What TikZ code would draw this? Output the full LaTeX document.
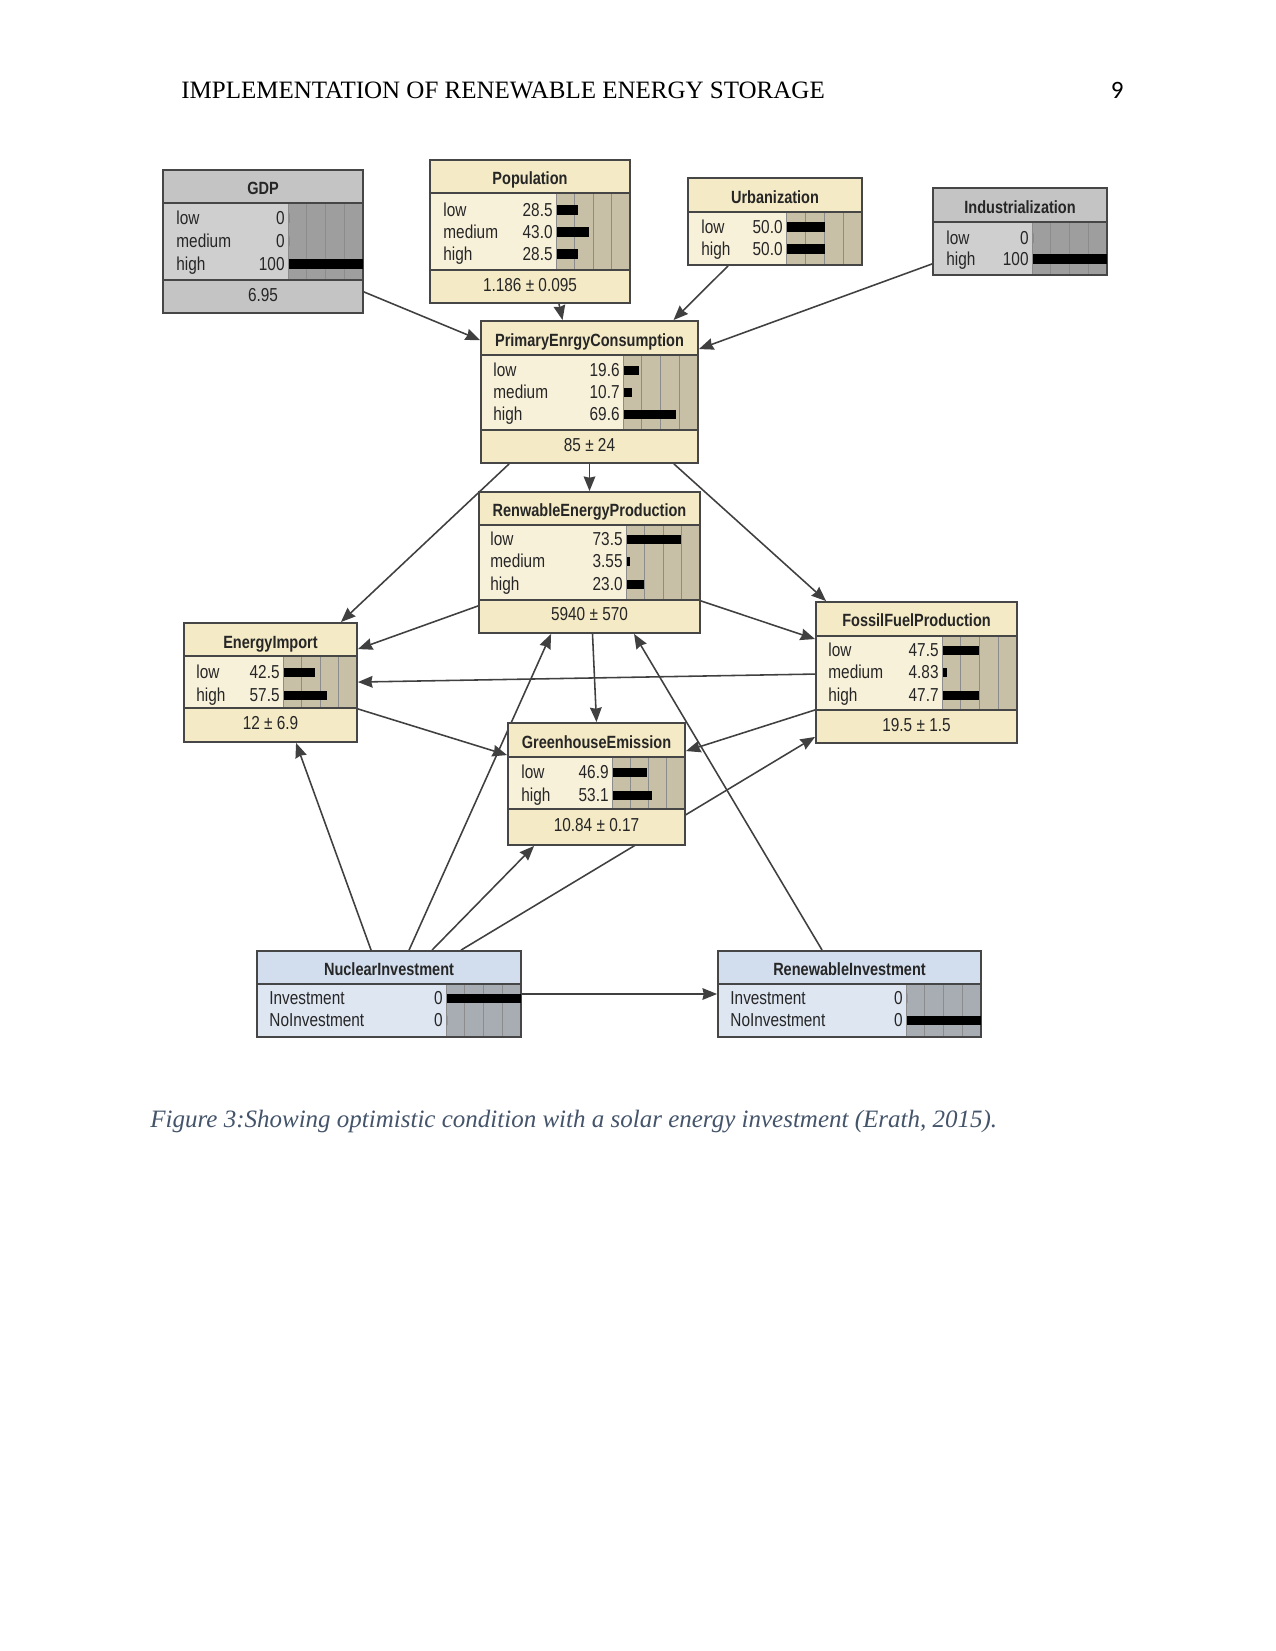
\documentclass[tikz,border=0pt]{standalone}
\usepackage{fontspec}
\setmainfont{Liberation Serif}
\newfontfamily\netfont[FakeStretch=0.82]{Liberation Sans}
\newfontfamily\pagefont{Carlito}
\usepackage{xcolor}
\usetikzlibrary{arrows.meta,positioning,calc,fit,backgrounds}

\definecolor{creamhead}{RGB}{244,234,198}
\definecolor{creambody}{RGB}{248,241,218}
\definecolor{creambar}{RGB}{200,192,166}
\definecolor{greyhead}{RGB}{196,196,196}
\definecolor{greybody}{RGB}{207,207,207}
\definecolor{greybar}{RGB}{158,158,158}
\definecolor{bluehead}{RGB}{210,222,238}
\definecolor{bluebody}{RGB}{222,230,242}
\definecolor{bluebar}{RGB}{168,173,180}
\definecolor{framegrey}{RGB}{70,70,70}
\definecolor{capblue}{RGB}{68,84,106}

% box: name, left, top, right, bottom, title bottom, table bottom, bar x, palette
\newcommand{\bnbox}[9]{%
  \fill[#9head] (#2,#3) rectangle (#4,#5);
  \fill[#9body] (#2,#6) rectangle (#4,#7);
  \fill[#9bar] (#8,#6) rectangle (#4,#7);
  \foreach \q in {0,0.25,0.5,0.75}
    \draw[bngrid] ({#8+\q*(#4-#8)},#6) -- ({#8+\q*(#4-#8)},#7);
  \draw[bnsep] (#2,#6) -- (#4,#6) (#2,#7) -- (#4,#7);
  \node[bnframe,fit={(#2,#3) (#4,#5)}] (#1) {};
}
% row: label x, bar x, y, label, value, bar length
\newcommand{\bnrow}[6]{%
  \node[bnlab] at (#1,{#3+2}) {#4};
  \node[bnval] at ({#2-3},{#3+2}) {#5};
  \fill[black] ({#2+1},{#3-4.5}) rectangle ({#2+1+#6},{#3+5});
}

\begin{document}
\begin{tikzpicture}[x=0.48pt,y=-0.48pt,>={Stealth[length=7pt,width=5.6pt,inset=0.6pt]},
  bnframe/.style={rectangle,draw=framegrey,line width=0.9pt,inner sep=0pt},
  bnsep/.style={draw=framegrey,line width=0.9pt},
  bngrid/.style={draw=black!45,line width=0.4pt},
  bnlab/.style={anchor=west,inner sep=0pt,text height=6.4pt,text depth=1.9pt,text=black!85,font=\netfont\fontsize{9}{10}\selectfont},
  bnval/.style={bnlab,anchor=east},
  bntitle/.style={inner sep=0pt,text height=6.2pt,text depth=1.8pt,yshift=-1.2pt,text=black!85,font=\netfont\bfseries\fontsize{8.5}{10}\selectfont},
  bnfoot/.style={inner sep=0pt,text height=6.2pt,text depth=1.8pt,text=black!85,font=\netfont\fontsize{9}{10}\selectfont},
  conn/.style={->,draw=black!75,line width=0.75pt}]
  \useasboundingbox (0,0) rectangle (1275,1651);

  \node[anchor=base west,inner sep=0pt,font=\fontsize{12}{14}\selectfont] (head) at (181,99) {IMPLEMENTATION OF RENEWABLE ENERGY STORAGE};
  \node[anchor=base east,inner sep=0pt,font=\pagefont\fontsize{12}{14}\selectfont] (pnum) at (1124,99) {9};

  \bnbox{gdp}{163}{170}{363}{313}{203}{280}{288}{grey}
  \node[bntitle] at (263,187) {GDP};
  \bnrow{176}{288}{218}{low}{0}{0}
  \bnrow{176}{288}{241}{medium}{0}{0}
  \bnrow{176}{288}{264}{high}{100}{74}
  \node[bnfoot] at (263,297) {6.95};

  \bnbox{pop}{430}{160}{630}{303}{193}{270}{556}{cream}
  \node[bntitle] at (530,177) {Population};
  \bnrow{443}{556}{210}{low}{28.5}{21}
  \bnrow{443}{556}{232}{medium}{43.0}{32}
  \bnrow{443}{556}{254}{high}{28.5}{21}
  \node[bnfoot] at (530,287) {1.186 ± 0.095};

  \bnbox{urb}{688}{178}{862}{265}{212}{265}{786}{cream}
  \node[bntitle] at (775,196) {Urbanization};
  \bnrow{701}{786}{227}{low}{50.0}{38}
  \bnrow{701}{786}{249}{high}{50.0}{38}

  \bnbox{ind}{933}{188}{1107}{275}{222}{275}{1032}{grey}
  \node[bntitle] at (1020,206) {Industrialization};
  \bnrow{946}{1032}{238}{low}{0}{0}
  \bnrow{946}{1032}{259}{high}{100}{74}

  \bnbox{pec}{481}{321}{698}{463}{355}{430}{623}{cream}
  \node[bntitle] at (589.5,339) {PrimaryEnrgyConsumption};
  \bnrow{493}{623}{370}{low}{19.6}{15}
  \bnrow{493}{623}{392}{medium}{10.7}{8}
  \bnrow{493}{623}{414}{high}{69.6}{52}
  \node[bnfoot] at (589.5,447) {85 ± 24};

  \bnbox{rep}{479}{492}{700}{633}{525}{600}{626}{cream}
  \node[bntitle] at (589.5,509) {RenwableEnergyProduction};
  \bnrow{490}{626}{539}{low}{73.5}{54}
  \bnrow{490}{626}{561}{medium}{3.55}{3}
  \bnrow{490}{626}{584}{high}{23.0}{17}
  \node[bnfoot] at (589.5,616) {5940 ± 570};

  \bnbox{ei}{184}{623}{357}{742}{656}{708}{283}{cream}
  \node[bntitle] at (270.5,641) {EnergyImport};
  \bnrow{196}{283}{672}{low}{42.5}{31}
  \bnrow{196}{283}{695}{high}{57.5}{43}
  \node[bnfoot] at (270.5,725) {12 ± 6.9};

  \bnbox{ffp}{816}{602}{1017}{743}{636}{710}{942}{cream}
  \node[bntitle] at (916.5,619) {FossilFuelProduction};
  \bnrow{828}{942}{650}{low}{47.5}{36}
  \bnrow{828}{942}{672}{medium}{4.83}{4}
  \bnrow{828}{942}{695}{high}{47.7}{36}
  \node[bnfoot] at (916.5,727) {19.5 ± 1.5};

  \bnbox{ge}{508}{723}{685}{845}{757}{809}{612}{cream}
  \node[bntitle] at (596.5,741) {GreenhouseEmission};
  \bnrow{521}{612}{772}{low}{46.9}{34}
  \bnrow{521}{612}{795}{high}{53.1}{39}
  \node[bnfoot] at (596.5,827) {10.84 ± 0.17};

  \bnbox{ni}{257}{951}{521}{1037}{984}{1037}{446}{blue}
  \node[bntitle] at (389,968) {NuclearInvestment};
  \bnrow{269}{446}{998}{Investment}{0}{74}
  \bnrow{269}{446}{1020}{NoInvestment}{0}{0}

  \bnbox{ri}{718}{951}{981}{1037}{984}{1037}{906}{blue}
  \node[bntitle] at (849.5,968) {RenewableInvestment};
  \bnrow{730}{906}{998}{Investment}{0}{0}
  \bnrow{730}{906}{1020}{NoInvestment}{0}{74}

  \begin{scope}[on background layer]
    \fill[white] (0,0) rectangle (1275,1651);
    \draw[conn] ($(gdp.south east)+(0,-22)$) -- ($(pec.north west)+(0,20)$);
    \draw[conn] ($(pop.south)+(29,0)$) -- ($(pec.north)+(-27,0)$);
    \draw[conn] ($(urb.south)+(-47,0)$) -- ($(pec.north)+(84,0)$);
    \draw[conn] ($(ind.south west)+(0,-12)$) -- ($(pec.north east)+(0,29)$);
    \draw[conn] (pec.south) -- (rep.north);
    \draw[conn] ($(pec.south west)+(29,0)$) -- ($(ei.north east)+(-17,0)$);
    \draw[conn] ($(pec.south east)+(-25,0)$) -- ($(ffp.north west)+(11,0)$);
    \draw[conn] ($(rep.south west)+(0,-28)$) -- ($(ei.north east)+(0,27)$);
    \draw[conn] ($(rep.south east)+(0,-33)$) -- ($(ffp.north west)+(0,38)$);
    \draw[conn] ($(ffp.north west)+(0,73)$) -- ($(ei.north east)+(0,60)$);
    \draw[conn] ($(ei.south east)+(0,-34)$) -- ($(ge.north west)+(0,33)$);
    \draw[conn] ($(rep.south)+(3,0)$) -- (ge.north);
    \draw[conn] ($(ffp.south west)+(0,-34)$) -- ($(ge.north east)+(0,29)$);
    \draw[conn] ($(ni.north west)+(115,0)$) -- ($(ei.south west)+(113,0)$);
    \draw[conn] ($(ni.north west)+(153,0)$) -- ($(rep.south west)+(73,0)$);
    \draw[conn] ($(ni.north west)+(176,0)$) -- ($(ge.south west)+(27,0)$);
    \draw[conn] ($(ni.north west)+(205,0)$) -- ($(ffp.south west)+(0,-7)$);
    \draw[conn] ($(ri.north west)+(105,0)$) -- ($(rep.south west)+(156,0)$);
    \draw[conn] (ni.east) -- (ri.west);
  \end{scope}

  \node[anchor=base west,inner sep=0pt,text=capblue,font=\itshape\fontsize{12}{14}\selectfont] (cap) at (150,1127) {Figure 3:Showing optimistic condition with a solar energy investment (Erath, 2015).};
\end{tikzpicture}
\end{document}
